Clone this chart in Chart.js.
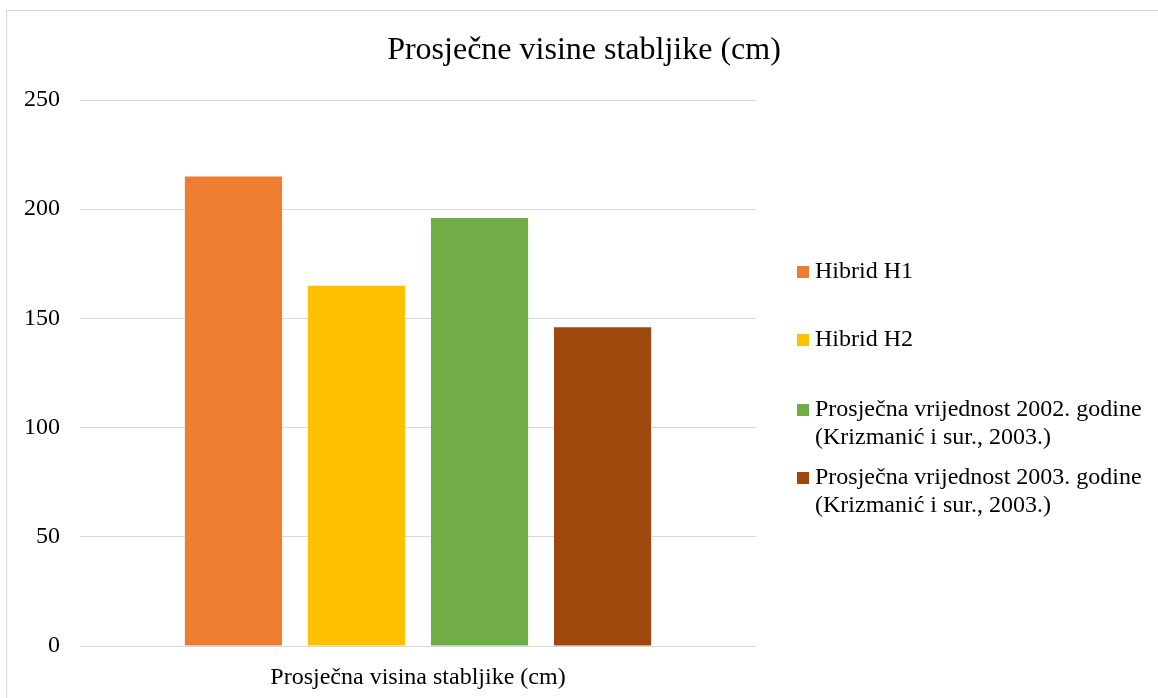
<!DOCTYPE html>
<html>
<head>
<meta charset="utf-8">
<script src="https://cdn.jsdelivr.net/npm/chart.js@4/dist/chart.umd.min.js"></script>
<style>
  html, body { margin: 0; padding: 0; background: #fff; }
  #wrap { position: relative; width: 1158px; height: 698px; overflow: hidden; }
  #frame { position: absolute; left: 6px; top: 10px; width: 1200px; height: 720px; border: 1px solid #d9d9d9; box-sizing: border-box; }
  #chart { position: absolute; left: 0; top: 0; }
</style>
</head>
<body>
<div id="wrap">
  <div id="frame"></div>
  <canvas id="chart" width="1158" height="698"></canvas>
</div>
<script>
const FONT = "'Liberation Serif', 'Times New Roman', serif";

// chart data
const chartTitle = "Prosječne visine stabljike (cm)";
const categories = ["Prosječna visina stabljike (cm)"];
const seriesLabels = [
  ["Hibrid H1"],
  ["Hibrid H2"],
  ["Prosječna vrijednost 2002. godine", "(Krizmanić i sur., 2003.)"],
  ["Prosječna vrijednost 2003. godine", "(Krizmanić i sur., 2003.)"],
];
const seriesValues = [215, 165, 196, 146];
const seriesColors = ["#ED7D31", "#FFC000", "#70AD47", "#9E480E"];
const yTicks = [0, 50, 100, 150, 200, 250];

const datasets = seriesLabels.map((label, i) => ({
  label: label.join(" "),
  lines: label,
  data: [seriesValues[i]],
  backgroundColor: seriesColors[i],
  categoryPercentage: 0.728,
  barPercentage: 0.79,
}));

// title centred on the whole canvas + legend on the right with multi-line labels
const decorations = {
  id: "decorations",
  afterDraw(chart) {
    const ctx = chart.ctx;
    ctx.save();
    ctx.fillStyle = "#000";
    ctx.font = "32px " + FONT;
    ctx.textAlign = "center";
    ctx.textBaseline = "middle";
    ctx.fillText(chartTitle, chart.width / 2 + 5, 51);

    const x = 797;
    const lineH = 28;
    const starts = [272, 340, 410, 478];
    ctx.font = "24px " + FONT;
    ctx.textAlign = "left";
    chart.data.datasets.forEach((ds, i) => {
      const y = starts[i];
      ctx.fillStyle = ds.backgroundColor;
      ctx.fillRect(x, y - 6, 12, 12);
      ctx.fillStyle = "#000";
      ds.lines.forEach((line, j) => {
        ctx.fillText(line, x + 18, y + j * lineH);
      });
    });
    ctx.restore();
  },
};

new Chart(document.getElementById("chart"), {
  type: "bar",
  data: {
    labels: categories,
    datasets: datasets,
  },
  options: {
    responsive: false,
    animation: false,
    layout: { padding: { left: 0, right: 402, top: 100, bottom: 0 } },
    plugins: {
      legend: { display: false },
      tooltip: { enabled: false },
      title: { display: false },
    },
    scales: {
      x: {
        grid: { display: false },
        border: { display: false },
        ticks: {
          color: "#000",
          font: { family: FONT, size: 24 },
          padding: 9,
        },
        afterFit(scale) { scale.height = 52; },
      },
      y: {
        min: 0,
        max: 250,
        afterBuildTicks(scale) { scale.ticks = yTicks.map(v => ({ value: v })); },
        grid: { color: "#d9d9d9", lineWidth: 1, drawTicks: false },
        border: { display: false },
        ticks: {
          color: "#000",
          font: { family: FONT, size: 24 },
          padding: 20,
        },
        afterFit(scale) { scale.width = 80; },
      },
    },
  },
  plugins: [decorations],
});
</script>
</body>
</html>
